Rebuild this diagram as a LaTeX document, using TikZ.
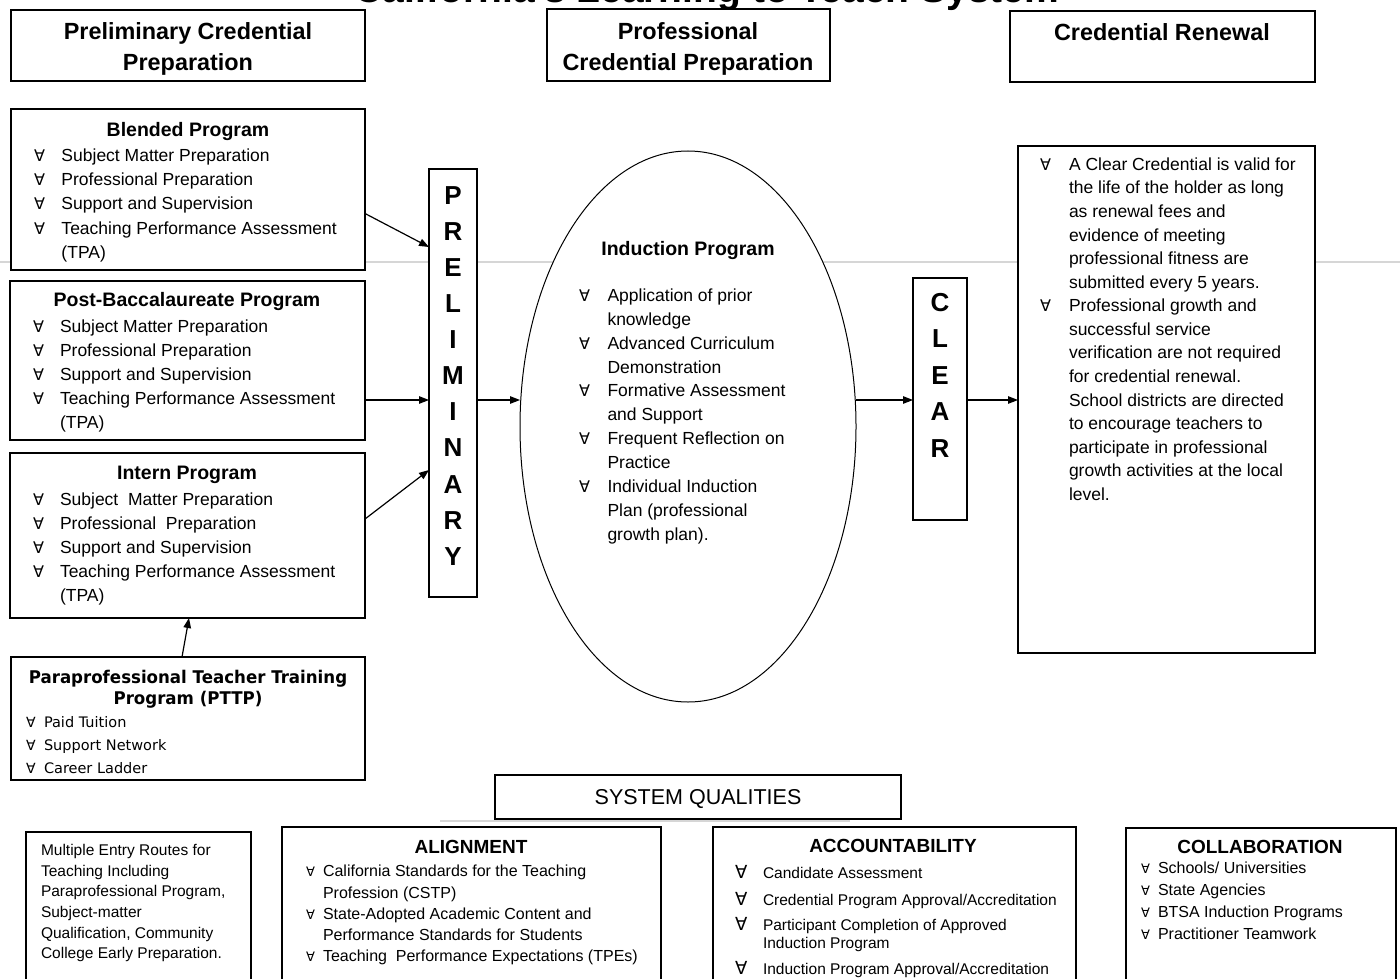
\documentclass[tikz,border=0pt]{standalone}
\usepackage{fontspec}
\setmainfont{Liberation Sans}
\newfontfamily\symf{DejaVu Sans}
\newfontfamily\dvs{DejaVu Sans}
\newfontfamily\dvsn[FakeStretch=0.95]{DejaVu Sans}
\usetikzlibrary{arrows.meta,shapes.geometric}
\newcommand\fbul[2]{\makebox[#1][l]{\symf\fontsize{#2}{#2}\selectfont ∀}}
\newcommand\fsz[2]{\fontsize{#1}{#2}\selectfont}
\begin{document}
\begin{tikzpicture}[x=1pt,y=-1pt,
  box/.style={draw, line width=1.2pt, fill=white, inner sep=0pt, outer sep=0pt, anchor=north west},
  txt/.style={inner sep=0pt, outer sep=0pt, anchor=north west, align=left},
  ctxt/.style={inner sep=0pt, outer sep=0pt, anchor=north, align=center},
  ttl/.style={inner sep=0pt, outer sep=0pt, anchor=base, font=\bfseries\fsz{19.5}{21}},
  btl/.style={inner sep=0pt, outer sep=0pt, anchor=base, font=\bfseries\fsz{19}{21}},
  arr/.style={-{Triangle[length=10pt,width=7.5pt]}, line width=1.2pt},
  greyline/.style={draw=black!16, line width=2pt}]
\useasboundingbox (0,0) rectangle (1400,979);
\clip (0,0) rectangle (1400,979);
\fill[white] (0,0) rectangle (1400,979);
% faint page-break lines
\coordinate (gl1) at (0,262);
\coordinate (gl2) at (1400,262);
\coordinate (gl3) at (440,821);
\coordinate (gl4) at (850,821);
\draw[greyline] (gl1) -- (gl2);
\draw[greyline] (gl3) -- (gl4);

% title (cut off at top)
\node[inner sep=0pt, anchor=base, font=\bfseries\fsz{39}{39}] (title) at (707,3) {California's Learning to Teach System};

% header boxes
\node[box, minimum width=354pt, minimum height=71pt] (h1) at (11,10) {};
\node[ctxt, font=\bfseries\fsz{23.4}{31}] (h1t) at (188,17.7) {\strut Preliminary Credential\\Preparation};
\node[box, minimum width=283pt, minimum height=72pt] (h2) at (547,9) {};
\node[ctxt, font=\bfseries\fsz{23.4}{31}] (h2t) at (688,17.7) {\strut Professional\\Credential Preparation};
\node[box, minimum width=305pt, minimum height=71pt] (h3) at (1010,11) {};
\node[ctxt, font=\bfseries\fsz{23.4}{31}] (h3t) at (1162,18.7) {\strut Credential Renewal};

% Blended
\node[box, minimum width=354pt, minimum height=161pt] (bl) at (11,109) {};
\node[ttl] (blh) at (188,136.8) {Blended Program};
\node[txt, font=\fsz{17.5}{24.3}] (blt) at (34,144.3) {\strut\fbul{27.5pt}{16}Subject Matter Preparation\\
\fbul{27.5pt}{16}Professional Preparation\\
\fbul{27.5pt}{16}Support and Supervision\\
\fbul{27.5pt}{16}Teaching Performance Assessment\\
\hspace*{27.5pt}(TPA)};

% Post-Baccalaureate
\node[box, minimum width=355pt, minimum height=159pt] (pb) at (10,281) {};
\node[ttl] (pbh) at (187,306.8) {Post-Baccalaureate Program};
\node[txt, font=\fsz{17.5}{24}] (pbt) at (33,315.3) {\strut\fbul{27pt}{16}Subject Matter Preparation\\
\fbul{27pt}{16}Professional Preparation\\
\fbul{27pt}{16}Support and Supervision\\
\fbul{27pt}{16}Teaching Performance Assessment\\
\hspace*{27pt}(TPA)};

% Intern
\node[box, minimum width=355pt, minimum height=165pt] (in) at (10,453) {};
\node[ttl] (inh) at (187,479.8) {Intern Program};
\node[txt, font=\fsz{17.5}{24}] (int) at (33,488.3) {\strut\fbul{27pt}{16}Subject\ \ Matter Preparation\\
\fbul{27pt}{16}Professional\ \ Preparation\\
\fbul{27pt}{16}Support and Supervision\\
\fbul{27pt}{16}Teaching Performance Assessment\\
\hspace*{27pt}(TPA)};

% PTTP
\node[box, minimum width=354pt, minimum height=123pt] (pt) at (11,657) {};
\node[ctxt, font=\dvsn\bfseries\fsz{17.5}{21}] (pth) at (188,668.7) {\strut Paraprofessional Teacher Training\\Program (PTTP)};
\node[txt, font=\dvs\fsz{14.5}{23}] (ptt) at (26,711.2) {\strut\fbul{18pt}{14}Paid Tuition\\
\fbul{18pt}{14}Support Network\\
\fbul{18pt}{14}Career Ladder};

% PRELIMINARY
\node[box, minimum width=48pt, minimum height=428pt] (prel) at (429,169) {};
\node[ctxt, font=\bfseries\fsz{26}{36.1}] (prelt) at (453,179) {\strut P\\R\\E\\L\\I\\M\\I\\N\\A\\R\\Y};

% Induction ellipse
\node[draw, ellipse, line width=1pt, fill=white, minimum width=336pt, minimum height=551pt, inner sep=0pt, outer sep=0pt] (ind) at (688,426.5) {};
\node[ttl] (indh) at (688,255.8) {Induction Program};
\node[txt, font=\fsz{17.5}{23.9}] (indt) at (579,284.6) {\strut\fbul{28.5pt}{16}Application of prior\\
\hspace*{28.5pt}knowledge\\
\fbul{28.5pt}{16}Advanced Curriculum\\
\hspace*{28.5pt}Demonstration\\
\fbul{28.5pt}{16}Formative Assessment\\
\hspace*{28.5pt}and Support\\
\fbul{28.5pt}{16}Frequent Reflection on\\
\hspace*{28.5pt}Practice\\
\fbul{28.5pt}{16}Individual Induction\\
\hspace*{28.5pt}Plan (professional\\
\hspace*{28.5pt}growth plan).};

% CLEAR
\node[box, minimum width=54pt, minimum height=242pt] (clr) at (913,278) {};
\node[ctxt, font=\bfseries\fsz{26}{36.5}] (clrt) at (940,285.8) {\strut C\\L\\E\\A\\R};

% Renewal text box
\node[box, minimum width=297pt, minimum height=507pt] (ren) at (1018,146) {};
\node[txt, font=\fsz{17.5}{23.57}] (rent) at (1040,153.8) {\strut\fbul{29pt}{16}A Clear Credential is valid for\\
\hspace*{29pt}the life of the holder as long\\
\hspace*{29pt}as renewal fees and\\
\hspace*{29pt}evidence of meeting\\
\hspace*{29pt}professional fitness are\\
\hspace*{29pt}submitted every 5 years.\\
\fbul{29pt}{16}Professional growth and\\
\hspace*{29pt}successful service\\
\hspace*{29pt}verification are not required\\
\hspace*{29pt}for credential renewal.\\
\hspace*{29pt}School districts are directed\\
\hspace*{29pt}to encourage teachers to\\
\hspace*{29pt}participate in professional\\
\hspace*{29pt}growth activities at the local\\
\hspace*{29pt}level.};

% connectors
\coordinate (mid) at (0,400);
\draw[arr] ([yshift=-24pt]bl.east) -- ([yshift=136pt]prel.west);
\draw[arr] (pb.east |- mid) -- (prel.west |- mid);
\draw[arr] ([yshift=16.5pt]in.east) -- ([yshift=-87pt]prel.west);
\draw[arr] ([xshift=-6pt]pt.north) -- ([xshift=1.5pt]in.south);
\draw[arr] (prel.east |- mid) -- (ind.west |- mid);
\draw[arr] (ind.east |- mid) -- (clr.west |- mid);
\draw[arr] (clr.east |- mid) -- (ren.west |- mid);

% System qualities
\node[box, minimum width=406pt, minimum height=44pt] (sq) at (495,775) {};
\node[inner sep=0pt, anchor=base, font=\fsz{21.5}{24}] (sqt) at (698,804.7) {SYSTEM QUALITIES};

% bottom boxes
\node[box, minimum width=225pt, minimum height=165pt] (ba) at (26,832) {};
\node[txt, font=\fsz{15.5}{20.6}] (bat) at (41,841.2) {\strut Multiple Entry Routes for\\
Teaching Including\\
Paraprofessional Program,\\
Subject-matter\\
Qualification, Community\\
College Early Preparation.};

\node[box, minimum width=379pt, minimum height=170pt] (bb) at (282,827) {};
\node[btl] (bbh) at (471,853.8) {ALIGNMENT};
\node[txt, font=\fsz{16}{21.2}] (bbt) at (306,862) {\strut\fbul{17pt}{13}California Standards for the Teaching\\
\hspace*{17pt}Profession (CSTP)\\
\fbul{17pt}{13}State-Adopted Academic Content and\\
\hspace*{17pt}Performance Standards for Students\\
\fbul{17pt}{13}Teaching\ \ Performance Expectations (TPEs)};

\node[box, minimum width=363pt, minimum height=170pt] (bc) at (713,827) {};
\node[btl] (bch) at (893,852.8) {ACCOUNTABILITY};
\node[txt, font=\fsz{15.5}{18}] (bct) at (735,865) {\strut\fbul{28pt}{18}Candidate Assessment\\[8pt]
\fbul{28pt}{18}Credential Program Approval/Accreditation\\[7pt]
\fbul{28pt}{18}Participant Completion of Approved\\
\hspace*{28pt}Induction Program\\[8pt]
\fbul{28pt}{18}Induction Program Approval/Accreditation};

\node[box, minimum width=270pt, minimum height=170pt] (bd) at (1126,828) {};
\node[btl] (bdh) at (1260,853.8) {COLLABORATION};
\node[txt, font=\fsz{16}{22}] (bdt) at (1141,858.4) {\strut\fbul{17pt}{13}Schools/ Universities\\
\fbul{17pt}{13}State Agencies\\
\fbul{17pt}{13}BTSA Induction Programs\\
\fbul{17pt}{13}Practitioner Teamwork};
\end{tikzpicture}
\end{document}
